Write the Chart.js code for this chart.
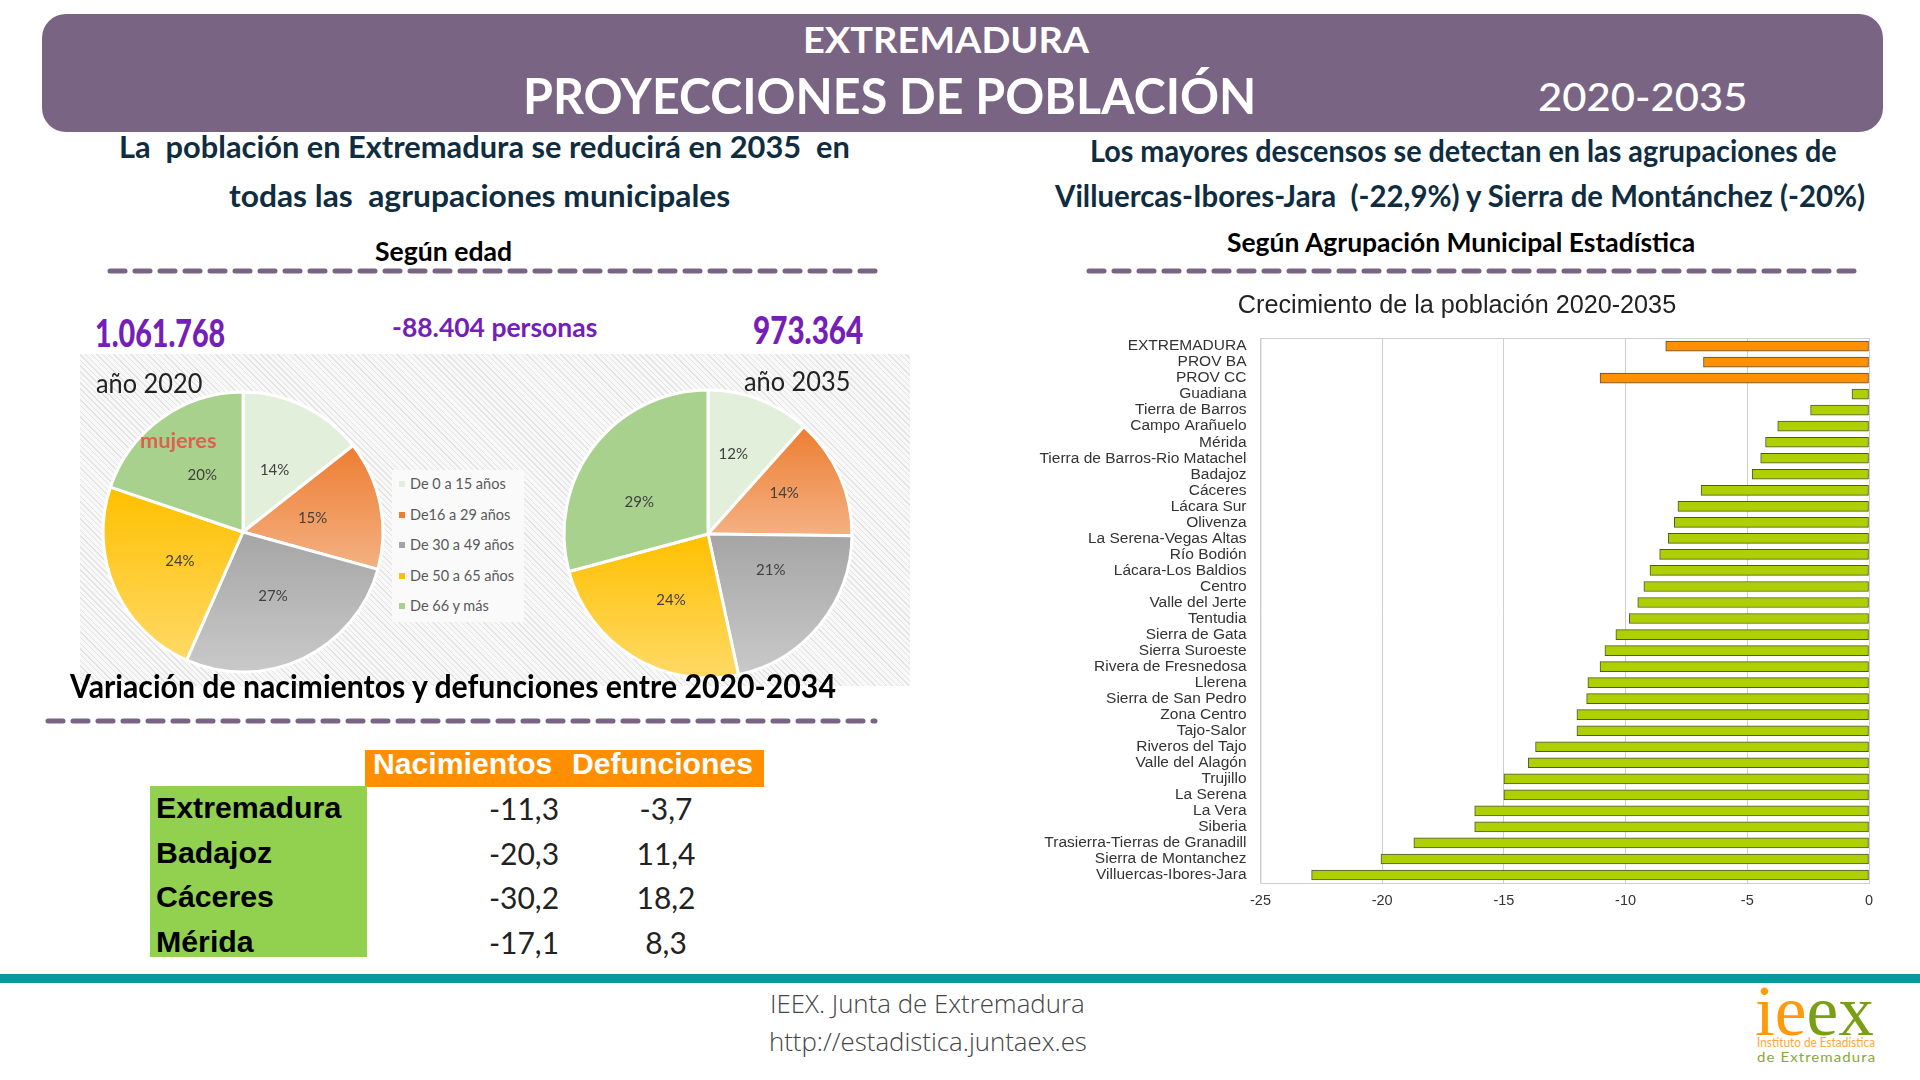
<!DOCTYPE html>
<html lang="es">
<head>
<meta charset="utf-8">
<title>Proyecciones de población Extremadura</title>
<script src="https://cdn.jsdelivr.net/npm/chart.js@4"></script>
<style>
  html, body { margin: 0; padding: 0; background: #fff; }
  #page { position: relative; width: 1920px; height: 1080px; overflow: hidden; background: #fff; font-family: Lato, sans-serif; }
  #banner { position: absolute; left: 42px; top: 14px; width: 1841px; height: 118px; background: #796484; border-radius: 24px; }
  #hatch { position: absolute; left: 80px; top: 354px; width: 830px; height: 332px;
    background: repeating-linear-gradient(45deg, #f8f8f8 0 2px, #e3e3e3 2px 3px, #f8f8f8 3px 4px); }
  #legendBox { position: absolute; left: 392px; top: 470px; width: 132px; height: 152px; background: #fafafa; }
  .t { position: absolute; white-space: pre; line-height: 1; transform-origin: left center; }
  .head { color: #fff; font-weight: 700; }
  .sub { color: #0f2d3f; font-weight: 700; font-size: 30px; }
  .blk { color: #000; font-weight: 700; }
  .pur { color: #7420b8; font-weight: 900; }
  canvas { position: absolute; }
  svg { position: absolute; left: 0; top: 0; }
  #teal { position: absolute; left: 0; top: 974px; width: 1920px; height: 9px; background: #0a989f; }
  #hdrOrange { position: absolute; left: 365px; top: 750px; width: 399px; height: 37px; background: #ff8f00; }
  #sideGreen { position: absolute; left: 150px; top: 786px; width: 217px; height: 171px; background: #92d050; }
  .arial { font-family: "Liberation Sans", Arial, sans-serif; font-weight: 700; }
  .foot { color: #444; font-family: "Open Sans", sans-serif; font-weight: 300; font-size: 25px; }
</style>
</head>
<body>
<div id="page">
  <div id="banner"></div>
  <span class="t head" style="left:803px;top:38px;font-size:37px" data-w="286">EXTREMADURA</span>
  <span class="t head" style="left:523px;top:95px;font-size:50px" data-w="733">PROYECCIONES DE POBLACIÓN</span>
  <span class="t" style="left:1538px;top:96px;font-size:39px;color:#fff;font-weight:500" data-w="209">2020-2035</span>

  <span class="t sub" style="left:119px;top:146px" data-w="731">La  población en Extremadura se reducirá en 2035  en</span>
  <span class="t sub" style="left:229px;top:195px" data-w="501">todas las  agrupaciones municipales</span>
  <span class="t blk" style="left:375px;top:251px;font-size:26px" data-w="137">Según edad</span>

  <span class="t sub" style="left:1090px;top:150px" data-w="747">Los mayores descensos se detectan en las agrupaciones de</span>
  <span class="t sub" style="left:1055px;top:195px" data-w="810">Villuercas-Ibores-Jara  (-22,9%) y Sierra de Montánchez (-20%)</span>
  <span class="t blk" style="left:1227px;top:242px;font-size:26px" data-w="468">Según Agrupación Municipal Estadística</span>

  <svg width="1920" height="1080">
    <g stroke="#796484" stroke-width="5" stroke-linecap="round" stroke-dasharray="15 10" fill="none">
      <line x1="110" y1="271" x2="875" y2="271"/>
      <line x1="1089" y1="271" x2="1855" y2="271"/>
      <line x1="48" y1="721" x2="875" y2="721"/>
    </g>
  </svg>

  <div id="hatch"></div>
  <div id="legendBox"></div>
  <div id="legendRows"></div>

  <canvas id="pie2020" width="320" height="320" style="left:83px;top:372px"></canvas>
  <canvas id="pie2035" width="320" height="320" style="left:548px;top:374px"></canvas>

  <span class="t pur" style="left:95px;top:332px;font-size:38px" data-w="130">1.061.768</span>
  <span class="t pur" style="left:392px;top:326px;font-size:27px;font-weight:700" data-w="205">-88.404 personas</span>
  <span class="t pur" style="left:753px;top:329px;font-size:38px" data-w="110">973.364</span>
  <span class="t" style="left:96px;top:382px;font-size:27px;color:#222" data-w="106">año 2020</span>
  <span class="t" style="left:744px;top:380px;font-size:27px;color:#222" data-w="106">año 2035</span>
  <span class="t" style="left:140px;top:440px;font-size:20px;color:#e0604f;font-weight:700" data-w="76">mujeres</span>

  <span class="t blk" style="left:70px;top:686px;font-size:32px" data-w="766">Variación de nacimientos y defunciones entre 2020-2034</span>

  <div id="hdrOrange"></div>
  <div id="sideGreen"></div>
  <div id="tableRows"></div>

  <canvas id="barChart" width="844" height="640" style="left:1035px;top:286px"></canvas>

  <div id="teal"></div>
  <span class="t foot" style="left:770px;top:1003px" data-w="315">IEEX. Junta de Extremadura</span>
  <span class="t foot" style="left:769px;top:1041px" data-w="318">http://estadistica.juntaex.es</span>

  <span class="t" style="left:1755px;top:1011px;font-family:'Liberation Serif',serif;font-size:72px" data-w="119"><span style="color:#ff9a0a">ie</span><span style="color:#78a012">ex</span></span>
  <span class="t" style="left:1757px;top:1042px;font-size:14px;color:#ffa733" data-w="118">Instituto de Estadística</span>
  <span class="t" style="left:1757px;top:1057px;font-size:14px;color:#86a838;letter-spacing:1px" data-w="119">de Extremadura</span>
</div>

<script>
// ---- Data ----
const ageGroups = ['De 0 a 15 años', 'De16 a 29 años', 'De 30 a 49 años', 'De 50 a 65 años', 'De 66 y más'];
const share2020 = [14.4, 14.9, 27.3, 23.6, 19.8];
const share2035 = [11.6, 13.6, 21.4, 24.2, 29.2];

const areaNames = [
  'EXTREMADURA', 'PROV BA', 'PROV CC', 'Guadiana', 'Tierra de Barros', 'Campo Arañuelo', 'Mérida',
  'Tierra de Barros-Rio Matachel', 'Badajoz', 'Cáceres', 'Lácara Sur', 'Olivenza', 'La Serena-Vegas Altas',
  'Río Bodión', 'Lácara-Los Baldios', 'Centro', 'Valle del Jerte', 'Tentudia', 'Sierra de Gata',
  'Sierra Suroeste', 'Rivera de Fresnedosa', 'Llerena', 'Sierra de San Pedro', 'Zona Centro', 'Tajo-Salor',
  'Riveros del Tajo', 'Valle del Alagón', 'Trujillo', 'La Serena', 'La Vera', 'Siberia',
  'Trasierra-Tierras de Granadill', 'Sierra de Montanchez', 'Villuercas-Ibores-Jara'
];
const areaGrowth = [
  -8.35, -6.8, -11.05, -0.7, -2.4, -3.75, -4.25,
  -4.45, -4.8, -6.9, -7.85, -8.0, -8.25,
  -8.6, -9.0, -9.25, -9.5, -9.85, -10.4,
  -10.85, -11.05, -11.55, -11.6, -12.0, -12.0,
  -13.7, -14.0, -15.0, -15.0, -16.2, -16.2,
  -18.7, -20.05, -22.9
];
const growthTicks = [-25, -20, -15, -10, -5, 0];

const tableHeaders = ['Nacimientos', 'Defunciones'];
const tableAreas = ['Extremadura', 'Badajoz', 'Cáceres', 'Mérida'];
const births = ['-11,3', '-20,3', '-30,2', '-17,1'];
const deaths = ['-3,7', '11,4', '18,2', '8,3'];

// ---- Colours ----
const sliceTop = ['#e2efda', '#ed7d31', '#a5a5a5', '#ffc000', '#a9d18e'];
const sliceBottom = ['#e2efda', '#f4b183', '#c9c9c9', '#ffd966', '#a9d18e'];
const legendColor = ['#e2efda', '#ed7d31', '#a5a5a5', '#ffc000', '#a9d18e'];
const ORANGE = '#ff9000';
const LIME = '#aed000';
const GRID = '#cfcfcf';

// Vertical gradient that spans only the slice's own height
function sliceGradient(c) {
  const chart = c.chart;
  const area = chart.chartArea;
  const i = c.dataIndex;
  if (!area || i === undefined) return sliceTop[0];
  const values = c.dataset.data;
  const total = values.reduce((a, b) => a + b, 0);
  const before = values.slice(0, i).reduce((a, b) => a + b, 0);
  const start = before / total * Math.PI * 2;
  const end = (before + values[i]) / total * Math.PI * 2;
  const r = c.dataset.radius;
  const cy = (area.top + area.bottom) / 2;
  let minY = cy, maxY = cy;
  for (let a = start; a <= end; a += 0.01) {
    const y = cy - Math.cos(a) * r;
    minY = Math.min(minY, y);
    maxY = Math.max(maxY, y);
  }
  const grad = chart.ctx.createLinearGradient(0, minY, 0, maxY);
  grad.addColorStop(0, sliceTop[i]);
  grad.addColorStop(1, sliceBottom[i]);
  return grad;
}

// Percent labels inside the slices, at a fraction of the radius plus a small per-slice shift
const sliceLabels = {
  id: 'sliceLabels',
  afterDatasetsDraw(chart, args, opts) {
    const ctx = chart.ctx;
    ctx.save();
    ctx.font = '15px Lato';
    ctx.fillStyle = '#404040';
    ctx.textAlign = 'center';
    ctx.textBaseline = 'middle';
    chart.getDatasetMeta(0).data.forEach((arc, i) => {
      const mid = (arc.startAngle + arc.endAngle) / 2;
      const r = arc.outerRadius * opts.at;
      const shift = opts.shift[i];
      ctx.fillText(Math.round(chart.data.datasets[0].data[i]) + '%',
        arc.x + Math.cos(mid) * r + shift[0], arc.y + Math.sin(mid) * r + shift[1]);
    });
    ctx.restore();
  }
};

function createPie(canvasId, values, radius, labelAt, labelShift) {
  return new Chart(document.getElementById(canvasId), {
    type: 'pie',
    data: {
      labels: ageGroups,
      datasets: [{ data: values, radius: radius, backgroundColor: sliceGradient, borderColor: '#ffffff', borderWidth: 3 }]
    },
    options: {
      responsive: false,
      animation: false,
      plugins: {
        legend: { display: false },
        tooltip: { enabled: false },
        sliceLabels: { at: labelAt, shift: labelShift }
      }
    },
    plugins: [sliceLabels]
  });
}

createPie('pie2020', share2020, 140, 0.5, [[1, 1], [1, 0], [0, 1], [1, 1], [0, 0]]);
createPie('pie2035', share2035, 144, 0.54, [[-2.5, -7], [5, -10], [2.5, -13.5], [3.5, 0], [-7, 15]]);

// Thin frame round the plot of the bar chart
const plotFrame = {
  id: 'plotFrame',
  beforeDraw(chart) {
    // let the longest category label run past the axis box instead of being clipped
    chart.scales.y.left = 0;
  },
  beforeDatasetsDraw(chart) {
    const a = chart.chartArea;
    const ctx = chart.ctx;
    ctx.save();
    ctx.strokeStyle = GRID;
    ctx.lineWidth = 1;
    ctx.strokeRect(a.left + 0.5, a.top + 0.5, a.width, a.height);
    ctx.restore();
  }
};

new Chart(document.getElementById('barChart'), {
  type: 'bar',
  data: {
    labels: areaNames,
    datasets: [{
      data: areaGrowth,
      backgroundColor: areaNames.map((n, i) => i < 3 ? ORANGE : LIME),
      borderColor: '#4f4f4f',
      borderWidth: 1,
      borderSkipped: false,
      barThickness: 10
    }]
  },
  options: {
    indexAxis: 'y',
    responsive: false,
    animation: false,
    layout: { padding: { left: 10, right: 10, top: 0, bottom: 0 } },
    plugins: {
      legend: { display: false },
      tooltip: { enabled: false },
      title: {
        display: true,
        text: 'Crecimiento de la población 2020-2035',
        color: '#222',
        font: { family: 'Liberation Sans', size: 25.2, weight: 'normal' },
        padding: { top: 5, bottom: 16.8 }
      }
    },
    scales: {
      x: {
        min: -25,
        max: 0,
        afterBuildTicks: axis => { axis.ticks = growthTicks.map(v => ({ value: v })); },
        afterFit: axis => { axis.height = 43; axis.paddingLeft = 0; axis.paddingRight = 0; },
        grid: { color: GRID, drawTicks: false },
        border: { display: false },
        ticks: { color: '#333', padding: 9, maxRotation: 0, font: { family: 'Liberation Sans', size: 14.5 } }
      },
      y: {
        afterFit: axis => { axis.width = 215.5; },
        grid: { display: false },
        border: { display: false },
        ticks: { color: '#333', padding: 6, autoSkip: false, font: { family: 'Liberation Sans', size: 15.5 } }
      }
    }
  },
  plugins: [plotFrame]
});

// ---- Legend and table as real text ----
function addText(parent, text, css, targetWidth) {
  const s = document.createElement('span');
  s.className = 't';
  s.textContent = text;
  s.style.cssText = css;
  if (targetWidth) s.dataset.w = targetWidth;
  parent.appendChild(s);
  return s;
}

const legendRows = document.getElementById('legendRows');
ageGroups.forEach((name, i) => {
  const y = 484 + i * 30.6;
  const box = document.createElement('div');
  box.style.cssText = `position:absolute;left:399px;top:${y - 3}px;width:6px;height:6px;background:${legendColor[i]}`;
  legendRows.appendChild(box);
  addText(legendRows, name, `left:410px;top:${y}px;font-size:14.5px;color:#595959`);
});

const tableRows = document.getElementById('tableRows');
tableHeaders.forEach((h, i) => {
  addText(tableRows, h, `left:${i ? 572 : 373}px;top:764px;font-size:30px;color:#fff`, i ? 181 : 179).classList.add('arial');
});
tableAreas.forEach((name, i) => {
  const y = 808 + i * 44.7;
  addText(tableRows, name, `left:156px;top:${y}px;font-size:30.3px;color:#000`).classList.add('arial');
  addText(tableRows, births[i], `left:524px;top:${y}px;font-size:30px;color:#222;translate:-50% 0`);
  addText(tableRows, deaths[i], `left:666px;top:${y}px;font-size:30px;color:#222;translate:-50% 0`);
});

// Centre vertically on the given top and squeeze each line to its measured width
document.querySelectorAll('.t').forEach(el => {
  const target = Number(el.dataset.w);
  const sx = target ? target / el.offsetWidth : 1;
  el.style.transform = `translateY(-50%) scaleX(${sx})`;
});
</script>
</body>
</html>
